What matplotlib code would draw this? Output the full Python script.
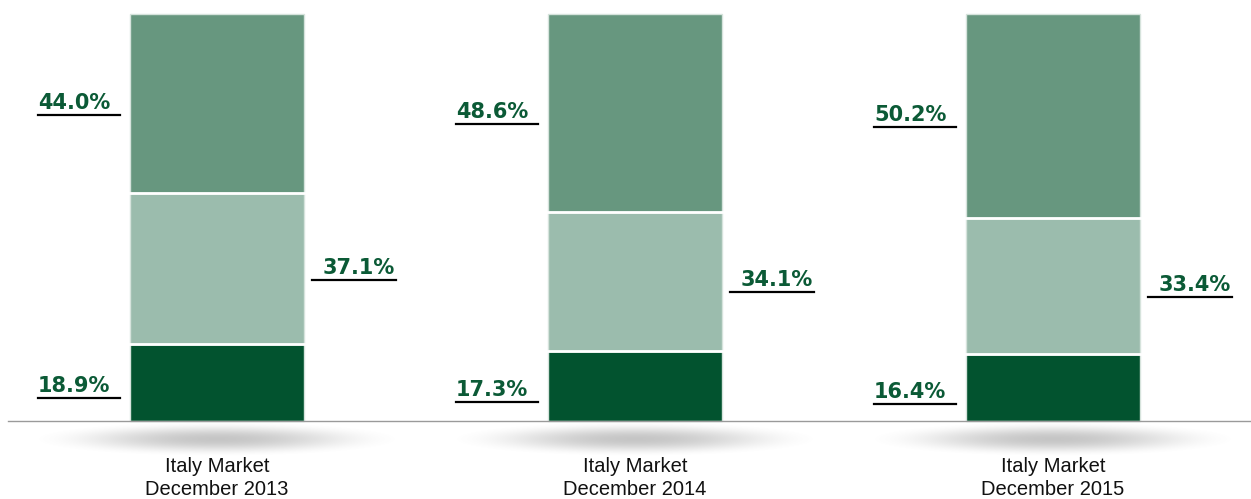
import numpy as np
import matplotlib.pyplot as plt

# data
markets = ['Italy Market\nDecember 2013', 'Italy Market\nDecember 2014', 'Italy Market\nDecember 2015']
bottom_share = [18.9, 17.3, 16.4]
middle_share = [37.1, 34.1, 33.4]
top_share = [44.0, 48.6, 50.2]

dark = '#02532f'
mid = '#9bbcad'
light = '#67977f'
txt = '#0b5a36'

fig = plt.figure(figsize=(12.51, 4.99), dpi=100)
ax = fig.add_axes([0, 0, 1, 1])

# pixel scale: 418 px between bars, 4.07 px per percent
px = 1 / 418
py = 1 / 4.07
ax.set_xlim(-217 * px, (1251 - 217) * px)
ax.set_ylim(-(499 - 421) * py, 421 * py)
ax.axis('off')

x = np.arange(len(markets))
w = 174 * px
bot = np.array(bottom_share)
midv = np.array(middle_share)
topv = np.array(top_share)

ax.bar(x, bot, w, color=dark, edgecolor='#d6e3dc', linewidth=1)
ax.bar(x, midv, w, bottom=bot, color=mid, edgecolor='#d6e3dc', linewidth=1)
ax.bar(x, topv, w, bottom=bot + midv, color=light, edgecolor='#d6e3dc', linewidth=1)
# white separators
for i in x:
    for yb in (bot[i], bot[i] + midv[i]):
        ax.plot([i - w / 2, i + w / 2], [yb, yb], color='white', lw=2, zorder=3)

# baseline
ax.plot([8 * px - 217 * px, (1251 - 217) * px], [0, 0], color='#9a9a9a', lw=1, zorder=4)

# soft shadows under each bar (fade to zero at the edges)
gx = np.linspace(-1, 1, 400)
gy = np.linspace(-1, 1, 80)
GX, GY = np.meshgrid(gx, gy)
r2 = GX ** 2 + GY ** 2
alpha = np.clip(1 - r2, 0, 1) ** 2.2
rgba = np.zeros((80, 400, 4))
rgba[..., :3] = 0.5
rgba[..., 3] = alpha * 0.45
for i in x:
    ax.imshow(rgba, extent=(i - 190 * px, i + 190 * px, -36 * py, 0),
              aspect='auto', interpolation='bilinear', zorder=1)

# category labels
for i, lab in zip(x, markets):
    ax.text(i, -36 * py, lab, ha='center', va='top', fontsize=14.5,
            family='Liberation Sans', color='#111111', linespacing=1.25)

# value labels
def left_label(i, yc, val):
    x0 = i - w / 2 - 92 * px
    ax.text(x0, yc + 1 * py, f'{val:.1f}%', ha='left', va='center', fontsize=15,
            fontweight='bold', family='DejaVu Sans', color=txt)
    ax.plot([x0, i - w / 2 - 10 * px], [yc - 11 * py] * 2, color='black', lw=1.6)

def right_label(i, yc, val):
    x1 = i + w / 2 + 92 * px
    ax.text(x1 - 1 * px, yc + 1 * py, f'{val:.1f}%', ha='right', va='center', fontsize=15,
            fontweight='bold', family='DejaVu Sans', color=txt)
    ax.plot([i + w / 2 + 8 * px, x1], [yc - 11 * py] * 2, color='black', lw=1.6)

for i in x:
    left_label(i, bot[i] + midv[i] + topv[i] / 2, topv[i])
    right_label(i, bot[i] + midv[i] / 2, midv[i])
    left_label(i, bot[i] / 2 - 1.2, bot[i])

fig.savefig('out.png', dpi=100)
